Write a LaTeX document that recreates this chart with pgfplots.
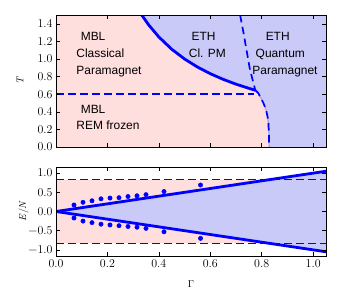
\documentclass[border=0pt]{standalone}
\usepackage{pgfplots}
\pgfplotsset{compat=1.18}
\usepackage{fontspec}
\newfontfamily\hv{Liberation Sans}
\definecolor{pinkfill}{RGB}{255,222,222}
\definecolor{bluefill}{RGB}{202,202,248}
\definecolor{lineblue}{RGB}{0,0,255}
\definecolor{edgepurple}{RGB}{175,160,225}
\tikzset{
  dashedblue/.style={draw=lineblue, line width=1.7bp, dash pattern=on 7.5bp off 4.5bp},
  txt/.style={anchor=base west, inner sep=0pt, font=\hv\fontsize{12}{14}\selectfont},
}
\pgfplotsset{
  myaxis/.style={
    scale only axis, width=270bp,
    xmin=0, xmax=1.05,
    tick align=inside, xtick pos=both, ytick pos=both,
    xticklabel pos=lower, yticklabel pos=left,
    major tick length=4bp,
    every tick/.style={black, line width=0.6pt},
    axis line style={line width=0.9pt},
    tick label style={font=\fontsize{12}{14}\selectfont},
    label style={font=\fontsize{14.5}{16}\selectfont},
    /pgf/number format/assume math mode=true,
    xtick={0,0.2,0.4,0.6,0.8,1.0},
    xticklabel style={/pgf/number format/.cd, fixed, fixed zerofill, precision=1},
    yticklabel style={/pgf/number format/.cd, fixed, fixed zerofill, precision=1},
    axis on top,
  },
}
\begin{document}
\begin{tikzpicture}
\path[use as bounding box] (0,0) rectangle (341bp,-307bp);
% ---------- top panel ----------
\begin{axis}[myaxis, at={(56bp,-147bp)}, anchor=south west, height=132bp,
  ymin=0, ymax=1.5, ytick={0,0.2,0.4,0.6,0.8,1.0,1.2,1.4},
  xticklabels={},
  ylabel={\itshape T},
  every axis y label/.style={at={(axis description cs:-0.133,0.5)}, rotate=90, anchor=center},
]
\addplot[fill=bluefill, draw=none] coordinates {
 (0.3333,1.5) (1.05,1.5) (1.05,0) (0.829,0) (0.828,0.15) (0.826,0.27) (0.823,0.34)
 (0.817,0.42) (0.808,0.49) (0.797,0.555) (0.786,0.615) (0.775,0.645)
 (0.75,0.667) (0.70,0.714) (0.65,0.769) (0.60,0.833) (0.55,0.909) (0.50,1.0)
 (0.45,1.111) (0.40,1.25) (0.36,1.389) } -- cycle;
\addplot[fill=pinkfill, draw=none] coordinates {
 (0,0) (0,1.5) (0.3333,1.5) (0.36,1.389) (0.40,1.25) (0.45,1.111) (0.50,1.0)
 (0.55,0.909) (0.60,0.833) (0.65,0.769) (0.70,0.714) (0.75,0.667) (0.775,0.645)
 (0.786,0.615) (0.797,0.555) (0.808,0.49) (0.817,0.42) (0.823,0.34) (0.826,0.27)
 (0.828,0.15) (0.829,0) } -- cycle;
% boundary solid curve
\addplot[lineblue, line width=2.8bp] coordinates {
 (0.3333,1.5) (0.36,1.389) (0.40,1.25) (0.45,1.111) (0.50,1.0) (0.55,0.909)
 (0.60,0.833) (0.65,0.769) (0.70,0.714) (0.75,0.667) (0.775,0.645) };
% lower boundary
\addplot[edgepurple, line width=1.2bp] coordinates {
 (0.775,0.645) (0.786,0.615) (0.797,0.555) (0.808,0.49) (0.817,0.42) (0.823,0.34)
 (0.826,0.27) (0.828,0.15) (0.829,0) };
\addplot[dashedblue] coordinates {
 (0.775,0.645) (0.786,0.615) (0.797,0.555) (0.808,0.49) (0.817,0.42) (0.823,0.34)
 (0.826,0.27) (0.828,0.15) (0.829,0) };
% upper dashed
\addplot[dashedblue] coordinates {
 (0.716,1.5) (0.729,1.3) (0.741,1.1) (0.753,0.9) (0.764,0.77) (0.775,0.645) };
% horizontal dashed
\addplot[dashedblue] coordinates { (0,0.6) (0.77,0.6) };
% labels
\node[txt] at (axis cs:0.0957,1.212) {MBL};
\node[txt] at (axis cs:0.0787,1.018) {Classical};
\node[txt] at (axis cs:0.0787,0.82) {Paramagnet};
\node[txt] at (axis cs:0.0957,0.384) {MBL};
\node[txt] at (axis cs:0.0787,0.197) {REM frozen};
\node[txt] at (axis cs:0.527,1.212) {ETH};
\node[txt] at (axis cs:0.516,1.018) {Cl. PM};
\node[txt] at (axis cs:0.815,1.212) {ETH};
\node[txt] at (axis cs:0.776,1.018) {Quantum};
\node[txt] at (axis cs:0.763,0.82) {Paramagnet};
\end{axis}
% ---------- bottom panel ----------
\begin{axis}[myaxis, at={(56bp,-256bp)}, anchor=south west, height=89bp,
  ymin=-1.16, ymax=1.16, ytick={-1,-0.5,0,0.5,1},
  yticklabels={−1.0,−0.5,0.0,0.5,1.0},
  xlabel={Γ}, ylabel={\itshape E\/\upshape/\itshape N},
  every axis y label/.style={at={(axis description cs:-0.12,0.5)}, rotate=90, anchor=center},
  every axis x label/.style={at={(axis description cs:0.5,-0.315)}, anchor=center},
]
\addplot[fill=pinkfill, draw=none] coordinates {(0,-0.8326) (1.05,-0.8326) (1.05,0.8326) (0,0.8326)} -- cycle;
\addplot[fill=bluefill, draw=none] coordinates {(0,0) (1.05,1.05) (1.05,-1.05)} -- cycle;
\addplot[lineblue, line width=2.8bp] coordinates {(0,0) (1.05,1.05)};
\addplot[lineblue, line width=2.8bp] coordinates {(0,0) (1.05,-1.05)};
\addplot[dashedblue] coordinates {(0,0.8326) (1.05,0.8326)};
\addplot[dashedblue] coordinates {(0,-0.8326) (1.05,-0.8326)};
\addplot[only marks, mark=*, mark size=2.2bp, lineblue] coordinates {
 (0.070,0.17) (0.105,0.24) (0.140,0.28) (0.175,0.33) (0.210,0.35) (0.245,0.36)
 (0.280,0.39) (0.315,0.41) (0.350,0.44) (0.420,0.52) (0.562,0.69) };
\addplot[only marks, mark=*, mark size=2.2bp, lineblue] coordinates {
 (0.070,-0.17) (0.105,-0.25) (0.140,-0.29) (0.175,-0.33) (0.210,-0.35) (0.245,-0.37)
 (0.280,-0.39) (0.315,-0.41) (0.350,-0.44) (0.420,-0.53) (0.562,-0.70) };
\end{axis}
\end{tikzpicture}
\end{document}
